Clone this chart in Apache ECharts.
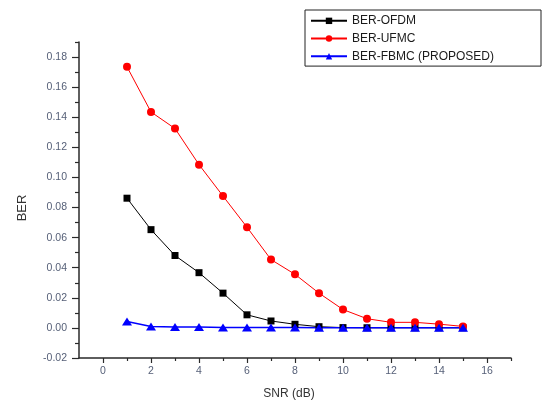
<!DOCTYPE html>
<html>
<head>
<meta charset="utf-8">
<script src="https://cdn.jsdelivr.net/npm/echarts@6/dist/echarts.min.js"></script>
<style>
  html, body { margin: 0; padding: 0; background: #fff; }
  #chart { width: 546px; height: 405px; }
</style>
</head>
<body>
<div id="chart"></div>
<script>
// SNR sweep (dB)
const snr = [1, 2, 3, 4, 5, 6, 7, 8, 9, 10, 11, 12, 13, 14, 15];

// Bit error rate per waveform
const berOFDM = [0.0862, 0.0653, 0.0481, 0.0367, 0.0231, 0.0087, 0.0046, 0.0024, 0.0008, 0.0002, 0.0001, 0.0001, 0.0001, 0.0001, 0.0001];
const berUFMC = [0.1735, 0.1435, 0.1325, 0.1085, 0.0876, 0.0669, 0.0454, 0.0356, 0.0231, 0.0122, 0.0061, 0.0037, 0.0037, 0.0025, 0.0010];
const berFBMC = [0.0042, 0.0010, 0.0006, 0.0006, 0.0002, 0.0002, 0.0002, 0.0002, 0.0001, 0.0001, 0.0001, 0.0001, 0.0001, 0.0001, 0.0001];

const seriesNames = ['BER-OFDM', 'BER-UFMC', 'BER-FBMC (PROPOSED)'];

// Axis tick positions
const xMajorTicks = [0, 2, 4, 6, 8, 10, 12, 14, 16];
const xMinorTicks = [1, 3, 5, 7, 9, 11, 13, 15, 17];
const yMajorTicks = [-0.02, 0, 0.02, 0.04, 0.06, 0.08, 0.10, 0.12, 0.14, 0.16, 0.18];
const yMinorTicks = [-0.01, 0.01, 0.03, 0.05, 0.07, 0.09, 0.11, 0.13, 0.15, 0.17, 0.19];

const pairs = (ys) => snr.map((x, i) => [x, ys[i]]);

const axisInk = '#2a2a2a';
const labelInk = '#566078';
const font = 'Liberation Sans, Arial, sans-serif';

const chart = echarts.init(document.getElementById('chart'), null, { renderer: 'canvas' });

chart.setOption({
  backgroundColor: '#ffffff',
  animation: false,
  textStyle: { fontFamily: font },
  grid: { left: 79, right: 35, top: 42, bottom: 46, containLabel: false },
  legend: {
    left: 305,
    top: 10,
    orient: 'vertical',
    data: seriesNames,
    padding: [2, 3, 1, 5],
    itemGap: 0,
    itemWidth: 36,
    itemHeight: 8,
    borderColor: '#222',
    borderWidth: 1,
    backgroundColor: '#fff',
    textStyle: { fontSize: 12, color: '#1a1a1a', lineHeight: 17.7, width: 186, fontFamily: font }
  },
  xAxis: [
    {
      type: 'value', min: -1, max: 17, interval: 1,
      name: 'SNR (dB)', nameLocation: 'middle', nameGap: 30,
      nameTextStyle: { fontSize: 12, color: '#333', padding: [0, 12, 0, 0] },
      splitLine: { show: false },
      axisLine: { onZero: false, lineStyle: { color: axisInk, width: 1.5 } },
      axisTick: { customValues: xMajorTicks, length: 5, lineStyle: { color: axisInk, width: 1.2 } },
      axisLabel: { customValues: xMajorTicks, margin: 8, fontSize: 10.5, color: labelInk }
    },
    {
      type: 'value', min: -1, max: 17, interval: 1, position: 'bottom',
      splitLine: { show: false },
      axisLine: { show: false, onZero: false },
      axisTick: { customValues: xMinorTicks, length: 3, lineStyle: { color: axisInk, width: 1.2 } },
      axisLabel: { show: false }
    }
  ],
  yAxis: [
    {
      type: 'value', min: -0.02, max: 0.19, interval: 0.01,
      name: 'BER', nameLocation: 'middle', nameGap: 50,
      nameTextStyle: { fontSize: 13, color: '#333', padding: [0, 16, 0, 0] },
      splitLine: { show: false },
      axisLine: { onZero: false, lineStyle: { color: axisInk, width: 1.5 } },
      axisTick: { customValues: yMajorTicks, length: 7, lineStyle: { color: axisInk, width: 1.2 } },
      axisLabel: {
        customValues: yMajorTicks, margin: 12, fontSize: 10.5, color: labelInk,
        formatter: (v) => v.toFixed(2)
      }
    },
    {
      type: 'value', min: -0.02, max: 0.19, interval: 0.01, position: 'left',
      splitLine: { show: false },
      axisLine: { show: false, onZero: false },
      axisTick: { customValues: yMinorTicks, length: 4, lineStyle: { color: axisInk, width: 1.2 } },
      axisLabel: { show: false }
    }
  ],
  series: [
    {
      name: seriesNames[0], type: 'line', data: pairs(berOFDM),
      symbol: 'rect', symbolSize: 7,
      lineStyle: { color: '#000000', width: 1 },
      itemStyle: { color: '#000000' }
    },
    {
      name: seriesNames[1], type: 'line', data: pairs(berUFMC),
      symbol: 'circle', symbolSize: 8,
      lineStyle: { color: '#ff0000', width: 1 },
      itemStyle: { color: '#ff0000' }
    },
    {
      name: seriesNames[2], type: 'line', data: pairs(berFBMC),
      symbol: 'triangle', symbolSize: [10, 8],
      lineStyle: { color: '#0000ff', width: 1.5 },
      itemStyle: { color: '#0000ff' }
    }
  ]
});
</script>
</body>
</html>
